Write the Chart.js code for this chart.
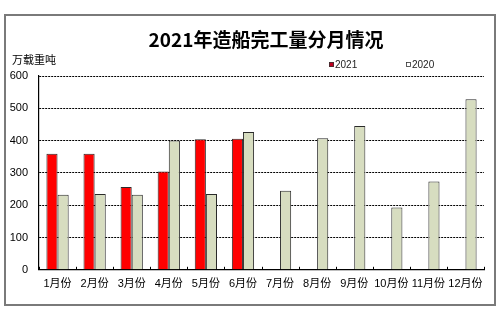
<!DOCTYPE html>
<html>
<head>
<meta charset="utf-8">
<script src="https://cdn.jsdelivr.net/npm/chart.js@4/dist/chart.umd.min.js"></script>
<style>
  body { margin: 0; background: #fff; }
  #box {
    position: absolute; left: 4px; top: 14px;
    width: 488px; height: 288px;
    border: 2px solid #7a7a7a;
    background: #fff;
  }
</style>
</head>
<body>
<div id="box"><canvas id="chart"></canvas></div>
<script>
// données (万载重吨)
const mois = ['1月份', '2月份', '3月份', '4月份', '5月份', '6月份', '7月份', '8月份', '9月份', '10月份', '11月份', '12月份'];
const valeurs2021 = [359, 359, 256, 304, 404, 406, null, null, null, null, null, null];
const valeurs2020 = [232, 235, 232, 400, 235, 427, 245, 407, 445, 193, 273, 528];
const ticksY = [0, 100, 200, 300, 400, 500, 600];

const FONT = 'Arial, "Liberation Sans", "Noto Sans CJK SC", sans-serif';

// titre, unité, petite légende et graduations intérieures de l'axe X
const decorMaison = {
  id: 'decorMaison',
  afterDraw(chart) {
    const ctx = chart.ctx;
    const x = chart.scales.x;
    const bas = chart.chartArea.bottom;
    ctx.save();

    // graduations entre les catégories, vers le haut
    ctx.strokeStyle = '#000';
    ctx.lineWidth = 1;
    ctx.beginPath();
    for (let i = 0; i <= mois.length; i++) {
      const px = Math.round(x.getPixelForValue(i - 0.5)) + 0.5;
      ctx.moveTo(px, bas);
      ctx.lineTo(px, bas - 3);
    }
    ctx.stroke();

    ctx.fillStyle = '#000';
    ctx.textBaseline = 'middle';
    ctx.textAlign = 'center';
    ctx.font = 'bold 19px "Noto Sans CJK SC", sans-serif';
    ctx.fillText('2021年造船完工量分月情况', 260, 24);

    ctx.textAlign = 'left';
    ctx.font = '11px "Noto Sans CJK SC", sans-serif';
    ctx.fillText('万载重吨', 6, 44);

    ctx.font = '10px ' + FONT;
    const items = [
      { x: 323, label: '2021', color: '#c00020' },
      { x: 400, label: '2020', color: '#ffffff' },
    ];
    items.forEach((it) => {
      ctx.fillStyle = it.color;
      ctx.fillRect(it.x, 46, 5, 5);
      ctx.strokeStyle = '#333';
      ctx.lineWidth = 0.8;
      ctx.strokeRect(it.x + 0.5, 46.5, 4, 4);
      ctx.fillStyle = '#222';
      ctx.fillText(it.label, it.x + 6, 49);
    });
    ctx.restore();
  }
};

const ctx = document.getElementById('chart').getContext('2d');
const chart = new Chart(ctx, {
  type: 'bar',
  data: {
    labels: mois,
    datasets: [
      {
        label: '2021',
        data: valeurs2021,
        backgroundColor: '#ff0000',
        borderColor: '#2a2a2a',
        borderWidth: 1,
      },
      {
        label: '2020',
        data: valeurs2020,
        backgroundColor: '#d7ddc0',
        borderColor: '#2a2a2a',
        borderWidth: 1,
      }
    ]
  },
  options: {
    responsive: true,
    maintainAspectRatio: false,
    animation: false,
    layout: { padding: { left: 4, right: 10, top: 60, bottom: 5 } },
    datasets: { bar: { categoryPercentage: 0.6, barPercentage: 1.0 } },
    plugins: {
      legend: { display: false },
      tooltip: { enabled: false },
      title: { display: false },
    },
    scales: {
      x: {
        grid: {
          display: true,
          drawOnChartArea: false,
          drawTicks: false,
          offset: true,
        },
        border: { color: '#000', width: 1.2 },
        ticks: {
          color: '#000',
          font: { family: FONT, size: 11 },
          padding: 8,
          maxRotation: 0,
          autoSkip: false,
        }
      },
      y: {
        min: 0,
        max: 600,
        afterBuildTicks: (axis) => { axis.ticks = ticksY.map((v) => ({ value: v })); },
        afterFit: (axis) => { axis.width = 29; },
        grid: {
          color: (c) => (c.tick && c.tick.value === 0 ? 'rgba(0,0,0,0)' : '#000'),
          drawTicks: false,
          lineWidth: 1,
        },
        // en v4, border.dash s'applique aux lignes de grille
        border: { color: '#000', width: 1.2, dash: [2, 1] },
        ticks: {
          color: '#000',
          font: { family: FONT, size: 11 },
          padding: 11,
        }
      }
    }
  },
  plugins: [decorMaison]
});
</script>
</body>
</html>
